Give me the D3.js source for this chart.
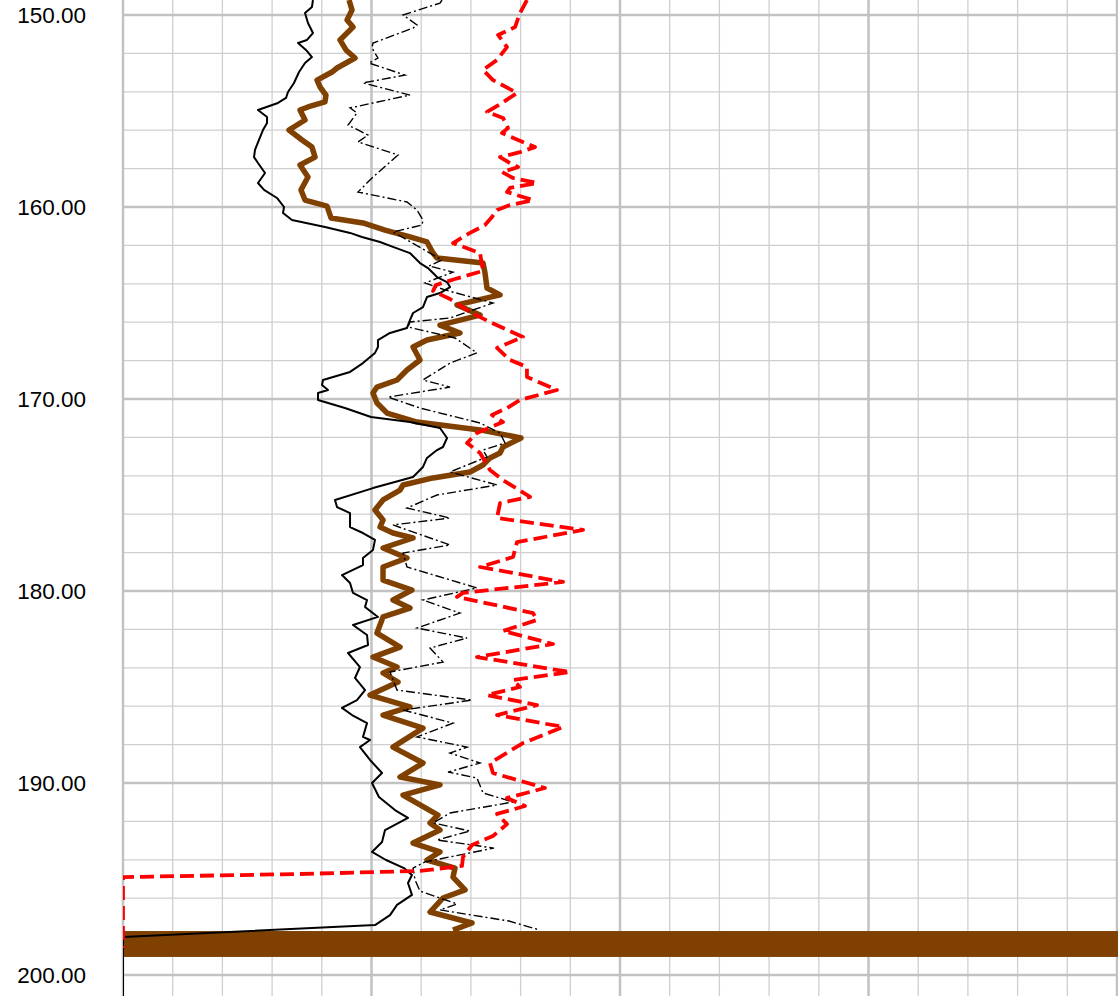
<!DOCTYPE html>
<html>
<head>
<meta charset="utf-8">
<script src="https://cdn.jsdelivr.net/npm/d3@7"></script>
<style>
  html, body { margin: 0; padding: 0; background: #fff; }
  svg { display: block; }
</style>
</head>
<body>
<svg id="chart" width="1118" height="996"></svg>
<script>
// ---- Data: [depth, value] ----
const depthTicks = [150, 160, 170, 180, 190, 200];

const blackSolid = [
[149.22,19.11],[149.58,19.01],[149.90,18.31],[150.42,18.61],[150.94,19.11],[151.30,18.51],[151.46,17.61],[151.82,18.41],[152.19,19.01],[152.50,18.31],[152.97,17.71],[153.54,17.20],[154.01,16.60],[154.32,16.40],[154.58,15.59],[154.95,13.58],[155.31,14.49],[155.63,14.49],[155.99,14.08],[156.51,13.68],[157.03,13.28],[157.40,13.18],[157.71,13.58],[158.23,14.29],[158.75,13.58],[159.11,14.19],[159.53,15.49],[160.00,16.20],[160.31,16.10],[160.68,17.00],[161.04,20.32],[161.35,22.84],[161.56,24.04],[161.82,25.86],[162.08,27.16],[162.40,28.87],[162.92,29.88],[163.18,30.68],[163.65,31.59],[163.91,32.60],[164.17,32.90],[164.48,31.89],[164.69,30.58],[165.21,30.18],[165.52,29.18],[165.89,28.87],[166.30,28.57],[166.56,26.86],[166.93,25.65],[167.29,25.65],[167.60,25.35],[168.13,24.14],[168.59,22.84],[169.01,20.12],[169.27,20.02],[169.53,20.62],[169.69,19.62],[170.05,19.62],[170.47,22.33],[170.94,24.95],[171.20,28.87],[171.51,31.89],[172.03,32.60],[172.50,32.19],[172.66,31.59],[173.07,30.58],[173.54,30.18],[174.06,29.18],[174.64,25.15],[175.26,21.33],[175.63,21.53],[175.94,22.84],[176.67,22.84],[176.98,24.14],[177.34,25.35],[177.86,25.15],[178.28,24.14],[178.65,24.14],[179.17,22.03],[179.58,22.84],[180.10,23.14],[180.47,24.55],[180.83,24.35],[181.35,25.65],[181.77,23.14],[182.29,24.55],[182.81,24.65],[183.23,22.64],[183.96,23.84],[184.53,23.34],[185.16,24.35],[185.68,23.54],[186.09,22.03],[186.46,23.04],[186.88,24.55],[187.60,24.14],[187.76,24.85],[188.13,23.84],[188.80,24.85],[189.48,26.06],[190.00,25.05],[190.73,25.75],[191.41,27.36],[191.82,28.67],[192.45,26.36],[193.07,26.06],[193.59,25.05],[194.01,26.46],[194.43,28.27],[194.79,29.07],[195.21,28.67],[195.83,29.07],[196.35,27.57],[196.88,26.86],[197.40,25.35],[198.02,0],[202.00,0]
];

const brownThick = [
[149.22,22.74],[149.74,23.04],[150.26,22.54],[150.63,23.14],[150.94,22.54],[151.30,21.83],[151.82,22.43],[152.24,23.34],[152.76,21.53],[152.97,21.03],[153.39,19.52],[153.75,19.82],[154.17,20.42],[154.53,20.32],[154.79,18.61],[154.95,17.81],[155.47,18.31],[155.99,16.70],[156.51,18.01],[156.88,19.01],[157.40,19.32],[157.81,17.81],[158.44,18.61],[159.11,17.91],[159.64,18.31],[159.95,20.52],[160.57,20.93],[160.83,24.14],[161.20,26.36],[161.56,28.87],[161.82,30.58],[162.40,31.19],[162.66,31.59],[162.92,36.22],[163.44,36.42],[164.22,36.62],[164.58,37.93],[165.10,33.60],[165.63,35.92],[166.15,31.89],[166.56,33.90],[166.93,30.58],[167.29,29.18],[167.97,29.88],[168.49,28.57],[169.01,27.57],[169.38,25.55],[169.69,25.15],[170.21,25.55],[170.73,26.56],[171.20,29.58],[171.61,35.92],[172.03,40.04],[172.50,38.23],[172.81,37.93],[173.07,36.92],[173.44,36.22],[173.80,34.91],[174.11,31.19],[174.48,28.17],[174.74,27.87],[175.26,26.16],[175.78,25.35],[176.30,26.16],[176.67,25.86],[176.98,27.16],[177.24,29.18],[177.76,26.16],[178.28,28.57],[178.75,26.16],[179.43,26.16],[179.95,29.07],[180.47,27.16],[180.89,28.87],[181.35,26.16],[182.19,25.55],[182.92,27.87],[183.44,25.15],[183.96,27.57],[184.27,26.16],[184.74,27.67],[185.42,24.85],[186.04,28.87],[186.46,26.16],[187.14,30.18],[188.13,27.16],[188.96,30.18],[189.69,27.87],[190.10,31.89],[190.63,28.17],[191.67,31.69],[192.08,30.89],[192.45,31.89],[193.13,29.18],[193.59,31.89],[194.01,30.58],[194.43,33.40],[194.90,33.20],[195.57,34.41],[195.99,32.19],[196.72,30.89],[197.29,35.11],[197.66,33.20]
];

// brown trace running off-scale at the bottom (depth top, depth bottom)
const brownBand = [[197.71, 199.06]];

const blackDashDot = [
[149.22,32.09],[149.38,31.89],[150.00,28.17],[150.52,29.58],[150.68,29.18],[151.46,25.15],[151.72,25.05],[152.24,25.65],[152.50,24.75],[153.13,28.37],[153.54,24.14],[154.17,28.87],[154.84,22.84],[155.10,23.54],[155.73,22.64],[156.25,24.65],[156.61,23.64],[157.29,27.67],[158.44,25.15],[159.22,23.64],[159.74,28.57],[160.16,29.58],[160.68,30.18],[160.94,30.08],[161.30,27.16],[162.76,32.09],[163.07,30.78],[163.39,33.20],[163.96,30.38],[164.32,32.39],[165.00,37.22],[165.78,32.90],[165.99,28.87],[166.25,28.67],[166.82,33.40],[167.60,35.61],[168.13,32.90],[169.01,30.18],[169.38,32.90],[169.90,26.66],[170.47,29.88],[171.25,35.92],[171.77,37.93],[172.29,38.43],[172.66,36.22],[173.02,36.62],[173.80,32.90],[174.48,37.63],[175.00,31.59],[175.68,28.57],[176.20,32.90],[176.56,27.16],[177.60,32.90],[178.02,28.17],[178.75,28.57],[179.84,35.61],[180.47,30.18],[181.15,33.90],[181.93,29.58],[182.45,34.61],[182.97,30.89],[183.70,32.19],[184.22,26.86],[185.16,27.57],[185.68,35.11],[186.20,28.17],[186.88,33.20],[187.60,29.58],[188.13,34.61],[188.44,32.90],[188.96,35.92],[189.43,32.70],[189.74,35.61],[190.52,36.22],[190.99,39.24],[191.56,32.90],[192.08,31.19],[192.50,34.91],[192.97,31.59],[193.39,37.32],[194.11,30.38],[194.43,29.18],[195.05,29.38],[195.63,29.88],[196.30,33.60],[196.61,31.89],[197.19,38.83],[197.66,41.95]
];

const redDashed = [
[149.22,40.64],[149.90,39.94],[150.63,39.44],[151.04,37.73],[151.67,38.63],[152.34,37.63],[152.86,36.22],[153.39,37.22],[154.06,39.64],[154.58,38.13],[155.05,36.62],[155.36,38.23],[155.89,38.73],[156.15,38.13],[156.51,39.74],[156.88,41.45],[157.14,39.94],[157.40,37.93],[157.71,38.93],[157.92,39.74],[158.18,38.13],[158.49,39.24],[158.75,41.65],[159.01,38.93],[159.22,38.63],[159.64,41.25],[159.90,38.93],[160.16,37.63],[160.52,37.12],[160.94,36.42],[161.35,34.91],[161.88,33.20],[162.40,35.92],[163.33,36.22],[163.75,33.40],[164.06,31.49],[164.38,31.19],[164.79,32.90],[165.47,34.91],[165.99,36.92],[166.77,40.24],[167.34,37.63],[167.97,38.93],[168.33,40.64],[168.85,40.64],[169.53,43.66],[170.05,39.94],[170.47,38.63],[170.83,37.12],[171.20,38.23],[171.77,35.61],[172.29,34.61],[172.81,35.92],[173.70,36.92],[174.22,38.23],[175.10,40.95],[175.42,37.93],[176.20,37.63],[176.82,46.28],[177.45,39.64],[178.23,39.24],[178.75,35.92],[179.53,44.27],[180.10,34.21],[180.31,33.60],[181.15,41.25],[181.51,41.65],[182.08,38.23],[182.76,43.26],[183.44,35.61],[184.22,44.97],[184.64,39.24],[185.00,39.94],[185.42,36.62],[185.94,41.65],[186.46,37.63],[187.08,44.27],[187.92,40.24],[188.96,36.92],[189.48,37.22],[190.26,42.45],[190.78,38.63],[191.20,40.44],[191.61,37.63],[192.14,38.63],[192.76,37.22],[193.23,35.11],[193.85,34.21],[194.32,34.10],[194.58,29.88],[194.74,17.81],[194.90,0],[198.60,0]
];

// ---- Layout ----
const W = 1118, H = 996;
const plotLeft = 123, plotRight = 1117;
const svg = d3.select('#chart');

const x = d3.scaleLinear().domain([0, 100]).range([plotLeft, plotRight]);
const y = d3.scaleLinear().domain([150, 200]).range([15, 975]);

svg.append('defs').append('clipPath').attr('id', 'clip')
  .append('rect').attr('x', plotLeft).attr('y', 0)
  .attr('width', plotRight - plotLeft + 1).attr('height', H);

const grid = svg.append('g');
const xMinor = d3.range(0, 100.01, 5).filter(v => v % 25 !== 0);
const yMinor = d3.range(148, 202.01, 2).filter(v => v % 10 !== 0);
grid.selectAll('.vminor').data(xMinor).join('line')
  .attr('x1', d => x(d)).attr('x2', d => x(d)).attr('y1', 0).attr('y2', H)
  .attr('stroke', '#cfcfcf').attr('stroke-width', 1.3);
grid.selectAll('.hminor').data(yMinor).join('line')
  .attr('x1', plotLeft).attr('x2', plotRight).attr('y1', d => y(d)).attr('y2', d => y(d))
  .attr('stroke', '#cfcfcf').attr('stroke-width', 1.3);
const xMajor = d3.range(0, 100.01, 25);
grid.selectAll('.vmajor').data(xMajor).join('line')
  .attr('x1', d => x(d)).attr('x2', d => x(d)).attr('y1', 0).attr('y2', H)
  .attr('stroke', '#c2c2c2').attr('stroke-width', 2.5);
grid.selectAll('.hmajor').data(depthTicks).join('line')
  .attr('x1', plotLeft).attr('x2', plotRight).attr('y1', d => y(d)).attr('y2', d => y(d))
  .attr('stroke', '#c2c2c2').attr('stroke-width', 2.5);

const yAxis = d3.axisLeft(y).tickValues(depthTicks).tickFormat(d3.format('.2f')).tickSize(0).tickPadding(0);
const ax = svg.append('g').attr('transform', `translate(86,0)`).call(yAxis);
ax.select('.domain').remove();
ax.selectAll('text')
  .attr('font-family', 'Liberation Sans, Arial, sans-serif')
  .attr('font-size', 22.5).attr('fill', '#000').attr('dy', '0.35em');

const plot = svg.append('g').attr('clip-path', 'url(#clip)');
const line = d3.line().x(d => x(d[1])).y(d => y(d[0]));

plot.append('path').datum(brownThick).attr('d', line)
  .attr('fill', 'none').attr('stroke', '#804000').attr('stroke-width', 5.5)
  .attr('stroke-linejoin', 'round');
plot.selectAll('.band').data(brownBand).join('rect')
  .attr('x', x(0)).attr('width', x(100) - x(0) + 2)
  .attr('y', d => y(d[0])).attr('height', d => y(d[1]) - y(d[0]))
  .attr('fill', '#804000');

plot.append('path').datum(blackDashDot).attr('d', line)
  .attr('fill', 'none').attr('stroke', '#000').attr('stroke-width', 1.4)
  .attr('stroke-dasharray', '9,3,2,3');

plot.append('path').datum(blackSolid).attr('d', line)
  .attr('fill', 'none').attr('stroke', '#000').attr('stroke-width', 2)
  .attr('stroke-linejoin', 'round');

plot.append('path').datum(redDashed).attr('d', line)
  .attr('fill', 'none').attr('stroke', '#ff0000').attr('stroke-width', 3.8)
  .attr('stroke-linejoin', 'round')
  .attr('stroke-dasharray', '14,6');
</script>
</body>
</html>
